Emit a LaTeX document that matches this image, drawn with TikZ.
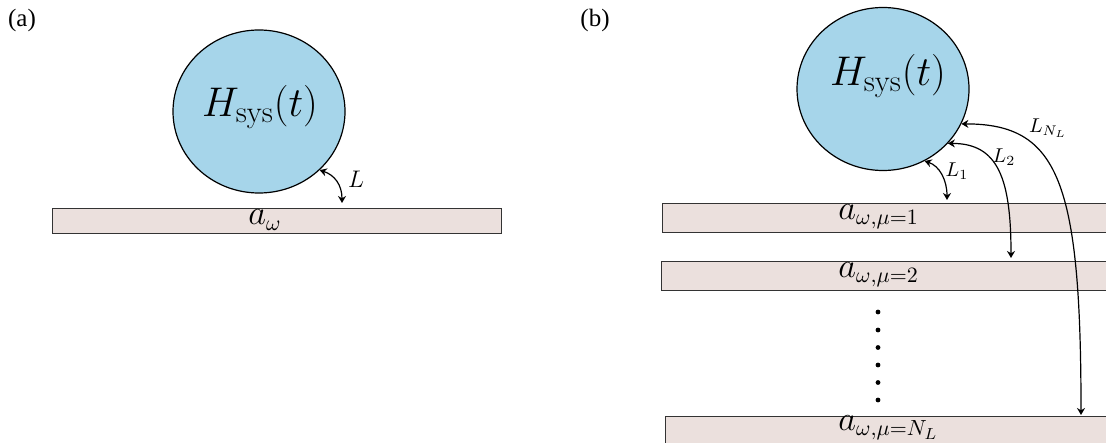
\documentclass[tikz,border=0pt]{standalone}
\usepackage{fontspec}
\newfontfamily\timesf{Liberation Serif}
\usetikzlibrary{shapes.geometric,arrows.meta}
\definecolor{sysblue}{RGB}{166,213,234}
\definecolor{bathpink}{RGB}{235,224,221}
\tikzset{
  sysell/.style={ellipse,draw=black,line width=0.6pt,fill=sysblue,minimum width=86pt,minimum height=81.5pt,inner sep=0pt},
  systext/.style={font=\fontsize{22}{26}\selectfont},
  bathbar/.style={rectangle,draw=black!80,line width=0.5pt,fill=bathpink,inner sep=0pt},
  bathtext/.style={font=\fontsize{16}{19}\selectfont,inner sep=0pt},
  panel/.style={font=\timesf\fontsize{12.5}{15}\selectfont,inner sep=0pt},
  coup/.style={line width=0.6pt,{Stealth[length=3.5pt,width=4pt]}-{Stealth[length=3.5pt,width=4pt]}},
  lbig/.style={font=\fontsize{12}{14}\selectfont,inner sep=0pt},
  lsmall/.style={font=\fontsize{10}{12}\selectfont,inner sep=0pt},
  dotnode/.style={circle,fill=black,inner sep=0pt,minimum size=2.4pt}
}
\begin{document}
\begin{tikzpicture}[x=0.5pt,y=-0.5pt]
\useasboundingbox (0,0) rectangle (1106,443);
% ---------- panel (a)
\node[panel] (pa) at (22,20) {(a)};
\node[sysell] (sysA) at (259,111.5) {};
\node[systext] (tA) at (260,107) {$H_{\mathrm{sys}}(t)$};
\node[bathbar,minimum width=224.5pt,minimum height=12.5pt] (barA) at (276.5,220.8) {};
\node[bathtext] (bA) at (265,220) {$a_\omega$};
\coordinate (eA) at (342,203);
\draw[coup] (sysA.-44) .. controls +(15,5) and +(0,-18) .. (eA);
\node[lbig] (lA) at (356,179) {$L$};
% ---------- panel (b)
\node[panel] (pb) at (595,20) {(b)};
\node[sysell] (sysB) at (883,89) {};
\node[systext] (tB) at (888,76) {$H_{\mathrm{sys}}(t)$};
\begin{scope}
\clip (0,0) rectangle (1106,443);
\node[bathbar,minimum width=230pt,minimum height=14.5pt,anchor=west] (b1) at (662,217.5) {};
\node[bathbar,minimum width=230pt,minimum height=14.5pt,anchor=west] (b2) at (661,275.5) {};
\node[bathbar,minimum width=230pt,minimum height=14.5pt,anchor=west] (b3) at (665,430.5) {};
\end{scope}
\node[bathtext,anchor=west] (t1) at (838,217) {$a_{\omega,\mu=1}$};
\node[bathtext,anchor=west] (t2) at (838,275) {$a_{\omega,\mu=2}$};
\node[bathtext,anchor=west] (t3) at (838,428) {$a_{\omega,\mu=N_L}$};
\foreach \i/\y in {1/312,2/330,3/347.5,4/365,5/382.5,6/400}
  \node[dotnode] (dot\i) at (878,\y) {};
\coordinate (e1) at (947,200);
\coordinate (e2) at (1011,258);
\coordinate (e3) at (1081,415);
\draw[coup] (sysB.-60) .. controls +(15,5) and +(0,-20) .. (e1);
\draw[coup] (sysB.-40) .. controls +(50,0) and +(0,-80) .. (e2);
\draw[coup] (sysB.-24) .. controls +(97,0) and +(0,-234) .. (e3);
\node[lsmall] (l1) at (957,171) {$L_1$};
\node[lsmall] (l2) at (1004,157) {$L_2$};
\node[lsmall] (l3) at (1048,128) {$L_{N_L}$};
\end{tikzpicture}
\end{document}
